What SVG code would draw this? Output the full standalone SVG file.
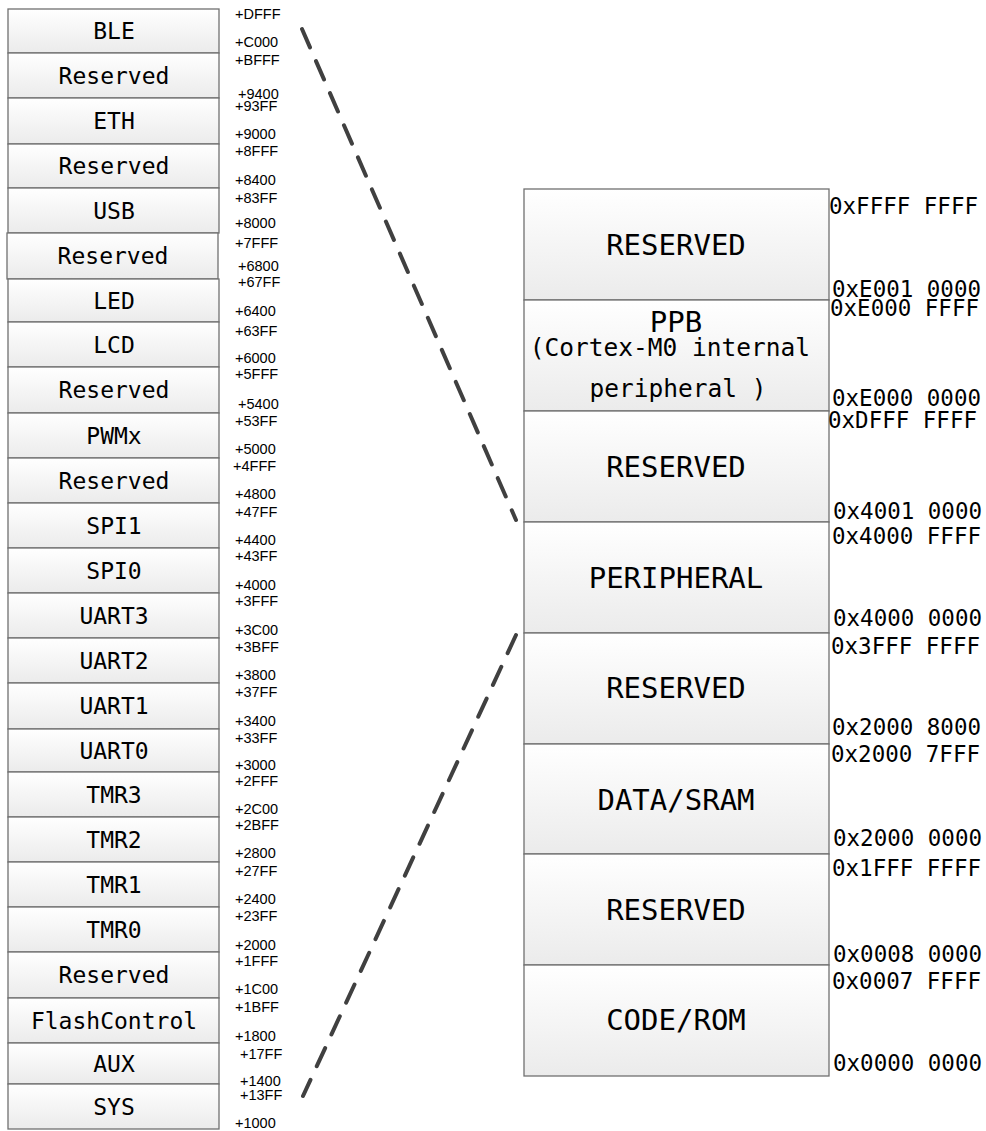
<svg xmlns="http://www.w3.org/2000/svg" width="986" height="1131" viewBox="0 0 986 1131">
<defs>
<linearGradient id="g" x1="0" y1="0" x2="0" y2="1">
<stop offset="0" stop-color="#ffffff"/>
<stop offset="1" stop-color="#ebebeb"/>
</linearGradient>
<style>
.box{fill:url(#g);stroke:#707070;stroke-width:1.3}
.bl{font-family:"DejaVu Sans Mono","Liberation Mono",monospace;font-size:23px;fill:#000;text-anchor:middle}
.br{font-family:"DejaVu Sans Mono","Liberation Mono",monospace;font-size:29px;fill:#000;text-anchor:middle}
.bs{font-family:"DejaVu Sans Mono","Liberation Mono",monospace;font-size:24.5px;fill:#000;text-anchor:middle}
.al{font-family:"Liberation Sans",Arial,sans-serif;font-size:14.5px;fill:#000}
.ar{font-family:"DejaVu Sans Mono","Liberation Mono",monospace;font-size:22.5px;fill:#000}
.dash{fill:none;stroke:#404040;stroke-width:4;stroke-dasharray:20 15;stroke-linecap:round}
</style>
</defs>
<rect width="986" height="1131" fill="#fff"/>
<g id="left-map">
<g id="n-ble"><rect class="box" x="8" y="9" width="211" height="44"/><text class="bl" x="114" y="39">BLE</text></g>
<g id="n-res1"><rect class="box" x="8" y="53" width="211" height="45"/><text class="bl" x="114" y="83.5">Reserved</text></g>
<g id="n-eth"><rect class="box" x="8" y="98" width="211" height="46"/><text class="bl" x="114" y="129">ETH</text></g>
<g id="n-res2"><rect class="box" x="8" y="144" width="211" height="44"/><text class="bl" x="114" y="174">Reserved</text></g>
<g id="n-usb"><rect class="box" x="8" y="188" width="211" height="45"/><text class="bl" x="114" y="218.5">USB</text></g>
<g id="n-res3"><rect class="box" x="7" y="233" width="211" height="46"/><text class="bl" x="113" y="264">Reserved</text></g>
<g id="n-led"><rect class="box" x="8" y="279" width="211" height="43"/><text class="bl" x="114" y="308.5">LED</text></g>
<g id="n-lcd"><rect class="box" x="8" y="322" width="211" height="45"/><text class="bl" x="114" y="352.5">LCD</text></g>
<g id="n-res4"><rect class="box" x="8" y="367" width="211" height="46"/><text class="bl" x="114" y="398">Reserved</text></g>
<g id="n-pwm"><rect class="box" x="8" y="413" width="211" height="45"/><text class="bl" x="114" y="443.5">PWMx</text></g>
<g id="n-res5"><rect class="box" x="8" y="458" width="211" height="45"/><text class="bl" x="114" y="488.5">Reserved</text></g>
<g id="n-spi1"><rect class="box" x="8" y="503" width="211" height="45"/><text class="bl" x="114" y="533.5">SPI1</text></g>
<g id="n-spi0"><rect class="box" x="8" y="548" width="211" height="45"/><text class="bl" x="114" y="578.5">SPI0</text></g>
<g id="n-uart3"><rect class="box" x="8" y="593" width="211" height="45"/><text class="bl" x="114" y="623.5">UART3</text></g>
<g id="n-uart2"><rect class="box" x="8" y="638" width="211" height="45"/><text class="bl" x="114" y="668.5">UART2</text></g>
<g id="n-uart1"><rect class="box" x="8" y="683" width="211" height="46"/><text class="bl" x="114" y="714">UART1</text></g>
<g id="n-uart0"><rect class="box" x="8" y="729" width="211" height="43"/><text class="bl" x="114" y="758.5">UART0</text></g>
<g id="n-tmr3"><rect class="box" x="8" y="772" width="211" height="45"/><text class="bl" x="114" y="802.5">TMR3</text></g>
<g id="n-tmr2"><rect class="box" x="8" y="817" width="211" height="45"/><text class="bl" x="114" y="847.5">TMR2</text></g>
<g id="n-tmr1"><rect class="box" x="8" y="862" width="211" height="45"/><text class="bl" x="114" y="892.5">TMR1</text></g>
<g id="n-tmr0"><rect class="box" x="8" y="907" width="211" height="45"/><text class="bl" x="114" y="937.5">TMR0</text></g>
<g id="n-res6"><rect class="box" x="8" y="952" width="211" height="46"/><text class="bl" x="114" y="983">Reserved</text></g>
<g id="n-flash"><rect class="box" x="8" y="998" width="211" height="45"/><text class="bl" x="114" y="1028.5">FlashControl</text></g>
<g id="n-aux"><rect class="box" x="8" y="1043" width="211" height="41"/><text class="bl" x="114" y="1071.5">AUX</text></g>
<g id="n-sys"><rect class="box" x="8" y="1084" width="211" height="45"/><text class="bl" x="114" y="1114.5">SYS</text></g>
</g>
<g id="left-addr">
<text class="al" x="235" y="19">+DFFF</text>
<text class="al" x="235" y="47">+C000</text>
<text class="al" x="235" y="65">+BFFF</text>
<text class="al" x="238" y="99">+9400</text>
<text class="al" x="235" y="111">+93FF</text>
<text class="al" x="235" y="139">+9000</text>
<text class="al" x="235" y="156">+8FFF</text>
<text class="al" x="235" y="185">+8400</text>
<text class="al" x="235" y="203">+83FF</text>
<text class="al" x="235" y="228">+8000</text>
<text class="al" x="235" y="248">+7FFF</text>
<text class="al" x="238" y="271">+6800</text>
<text class="al" x="238" y="287">+67FF</text>
<text class="al" x="235" y="316">+6400</text>
<text class="al" x="235" y="336">+63FF</text>
<text class="al" x="235" y="363">+6000</text>
<text class="al" x="235" y="379">+5FFF</text>
<text class="al" x="238" y="409">+5400</text>
<text class="al" x="235" y="426">+53FF</text>
<text class="al" x="235" y="454">+5000</text>
<text class="al" x="233" y="471">+4FFF</text>
<text class="al" x="235" y="499">+4800</text>
<text class="al" x="235" y="517">+47FF</text>
<text class="al" x="235" y="545">+4400</text>
<text class="al" x="235" y="561">+43FF</text>
<text class="al" x="235" y="590">+4000</text>
<text class="al" x="235" y="606">+3FFF</text>
<text class="al" x="235" y="635">+3C00</text>
<text class="al" x="235" y="652">+3BFF</text>
<text class="al" x="235" y="680">+3800</text>
<text class="al" x="235" y="697">+37FF</text>
<text class="al" x="235" y="726">+3400</text>
<text class="al" x="235" y="743">+33FF</text>
<text class="al" x="235" y="770">+3000</text>
<text class="al" x="235" y="786">+2FFF</text>
<text class="al" x="235" y="814">+2C00</text>
<text class="al" x="235" y="830">+2BFF</text>
<text class="al" x="235" y="858">+2800</text>
<text class="al" x="235" y="876">+27FF</text>
<text class="al" x="235" y="904">+2400</text>
<text class="al" x="235" y="921">+23FF</text>
<text class="al" x="235" y="950">+2000</text>
<text class="al" x="235" y="966">+1FFF</text>
<text class="al" x="235" y="994">+1C00</text>
<text class="al" x="235" y="1012">+1BFF</text>
<text class="al" x="235" y="1041">+1800</text>
<text class="al" x="240" y="1059">+17FF</text>
<text class="al" x="240" y="1086">+1400</text>
<text class="al" x="240" y="1100">+13FF</text>
<text class="al" x="235" y="1128">+1000</text>
</g>
<g id="right-map">
<g id="m-reserved1"><rect class="box" x="524" y="189" width="305" height="111"/><text class="br" x="676" y="255">RESERVED</text></g>
<g id="m-ppb"><rect class="box" x="524" y="300" width="305" height="111"/><text class="br" x="676" y="332">PPB</text><text class="bs" x="670" y="356">(Cortex-M0 internal</text><text class="bs" x="678" y="397">peripheral )</text></g>
<g id="m-reserved2"><rect class="box" x="524" y="411" width="305" height="111"/><text class="br" x="676" y="477">RESERVED</text></g>
<g id="m-peripheral"><rect class="box" x="524" y="522" width="305" height="111"/><text class="br" x="676" y="588">PERIPHERAL</text></g>
<g id="m-reserved3"><rect class="box" x="524" y="633" width="305" height="111"/><text class="br" x="676" y="698">RESERVED</text></g>
<g id="m-sram"><rect class="box" x="524" y="744" width="305" height="110"/><text class="br" x="676" y="810">DATA/SRAM</text></g>
<g id="m-reserved4"><rect class="box" x="524" y="854" width="305" height="111"/><text class="br" x="676" y="920">RESERVED</text></g>
<g id="m-rom"><rect class="box" x="524" y="965" width="305" height="111"/><text class="br" x="676" y="1030">CODE/ROM</text></g>
</g>
<g id="right-addr">
<text class="ar" x="829" y="214">0xFFFF FFFF</text>
<text class="ar" x="832" y="297">0xE001 0000</text>
<text class="ar" x="830" y="316">0xE000 FFFF</text>
<text class="ar" x="832" y="406">0xE000 0000</text>
<text class="ar" x="828" y="428">0xDFFF FFFF</text>
<text class="ar" x="833" y="519">0x4001 0000</text>
<text class="ar" x="832" y="544">0x4000 FFFF</text>
<text class="ar" x="833" y="626">0x4000 0000</text>
<text class="ar" x="831" y="654">0x3FFF FFFF</text>
<text class="ar" x="832" y="735">0x2000 8000</text>
<text class="ar" x="831" y="762">0x2000 7FFF</text>
<text class="ar" x="833" y="846">0x2000 0000</text>
<text class="ar" x="832" y="876">0x1FFF FFFF</text>
<text class="ar" x="833" y="962">0x0008 0000</text>
<text class="ar" x="832" y="989">0x0007 FFFF</text>
<text class="ar" x="833" y="1071">0x0000 0000</text>
</g>
<g id="connectors">
<line class="dash" x1="302" y1="29" x2="516" y2="520"/>
<line class="dash" x1="516" y1="635" x2="303" y2="1096"/>
</g>
</svg>
